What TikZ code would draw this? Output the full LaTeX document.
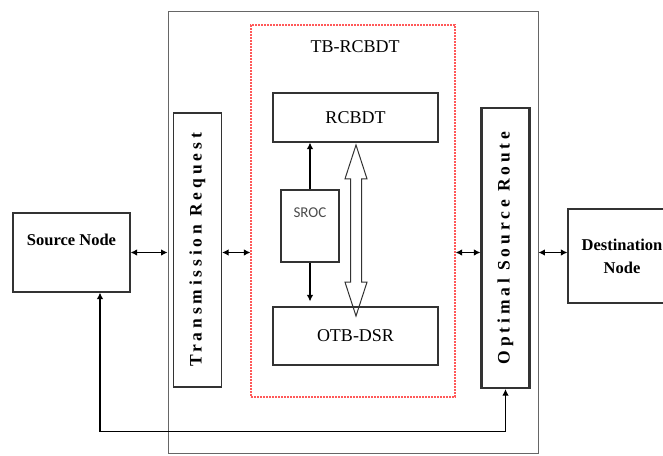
\documentclass[tikz,border=0pt]{standalone}
\usepackage{fontspec}
\setmainfont{Liberation Serif}
\newfontfamily\srocfont{Carlito}
\usetikzlibrary{positioning,arrows.meta,shapes.arrows}

\begin{document}
\begin{tikzpicture}[
  x=1pt, y=-1pt,
  font=\fontsize{16}{23}\selectfont,
  box/.style={draw=black!80, line width=1.2pt, inner sep=0pt, align=center},
  namebox/.style={box, font=\fontsize{16.5}{23}\selectfont\bfseries},
  inbox/.style={box, font=\fontsize{18}{21}\selectfont, minimum width=165pt},
  sidebox/.style={box, minimum width=48pt, font=\fontsize{17.5}{20}\selectfont\bfseries\addfontfeature{LetterSpace=22}},
  arr/.style={{Latex[length=6.5pt,width=6.5pt]}-{Latex[length=6.5pt,width=6.5pt]}, line width=1.1pt},
  onearr/.style={-{Latex[length=6.5pt,width=6.5pt]}, line width=1.1pt}]
\useasboundingbox (0,0) rectangle (663,455);

% frames
\node[draw=black!60, line width=0.9pt, minimum width=370pt, minimum height=442pt] (sys) at (353,232) {};
\node[draw=red!65, line width=1.2pt, dash pattern=on 2pt off 1pt, minimum width=204pt, minimum height=372pt] (tb) at (353,211) {};
\node[font=\fontsize{18}{21}\selectfont] (tbname) at (355,47) {TB-RCBDT};

% outside nodes
\node[namebox, minimum width=117pt, minimum height=79pt, text depth=25pt] (src) at (71.5,252.5) {Source Node};
\node[namebox, minimum width=108pt, minimum height=94pt] (dst) at (622,256) {Destination\\Node};

% side blocks
\node[sidebox, minimum height=274pt] (trq) at (197.5,250) {\rotatebox{90}{Transmission Request}};
\node[sidebox, line width=2.2pt, minimum height=280pt] (osr) at (505.5,248) {\rotatebox{90}{Optimal Source Route}};

% inner blocks
\node[inbox, minimum height=49pt] (rcbdt) at (355.5,117.5) {RCBDT};
\node[inbox, minimum height=58pt] (otb) at (355.5,336) {OTB-DSR};
\node[box, minimum width=58pt, minimum height=72pt, text depth=26pt, font=\fontsize{15}{18}\srocfont, text=black!70] (sroc) at (310,226) {SROC};
\node[draw=black!80, line width=1pt, double arrow, rotate=90, minimum height=171pt, inner xsep=0pt, inner ysep=5pt,
  double arrow head extend=5.5pt, double arrow tip angle=36] (link) at (356,230.5) {};

\draw[onearr] (sroc.north) -- (sroc.north |- rcbdt.south);
\draw[onearr] (sroc.south) -- ([yshift=5pt]sroc.south |- otb.north);

% links
\draw[arr] (src.east) -- (src.east -| sys.west);
\draw[arr] (src.east -| trq.east) -- (src.east -| tb.west);
\draw[arr] (src.east -| tb.east) -- (src.east -| osr.west);
\draw[arr] (src.east -| sys.east) -- (src.east -| dst.west);
\draw[arr] ([xshift=28.5pt]src.south) |- ([yshift=-42pt]osr.south) -- (osr.south);
\end{tikzpicture}
\end{document}
